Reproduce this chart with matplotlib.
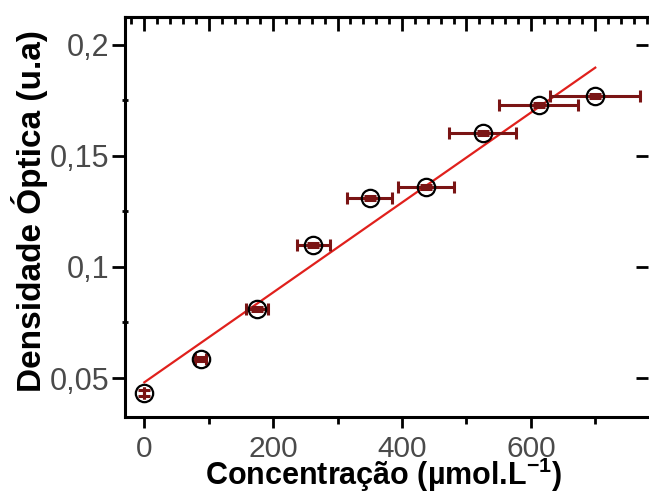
import numpy as np
import matplotlib

matplotlib.use("Agg")
import matplotlib.pyplot as plt
from matplotlib.ticker import FuncFormatter, MultipleLocator

plt.rcParams["font.family"] = ["Liberation Sans", "DejaVu Sans"]
plt.rcParams["mathtext.fontset"] = "custom"
plt.rcParams["mathtext.bf"] = "Liberation Sans:bold"
plt.rcParams["mathtext.rm"] = "Liberation Sans"

concentration = [0, 87.5, 175, 262.5, 350, 437.5, 525, 612.5, 700]
optical_density = [0.0432, 0.0586, 0.0811, 0.110, 0.131, 0.136, 0.1604, 0.173, 0.177]
x_error = [0.0, 8.75, 17.5, 26.25, 35.0, 43.75, 52.5, 61.25, 70.0]
y_error = [0.0012, 0.0008, 0.0008, 0.0008, 0.0008, 0.0008, 0.0008, 0.0008, 0.0008]

slope, intercept = np.polyfit(concentration, optical_density, 1)
fit_x = np.array([concentration[0], concentration[-1]])
fit_y = slope * fit_x + intercept

fig = plt.figure(figsize=(6.49, 4.93), dpi=100)
ax = fig.add_axes([0.1926, 0.154, 0.806, 0.8115])

ax.plot(fit_x, fit_y, color="#e0201c", linewidth=1.6, zorder=2)
ax.errorbar(concentration, optical_density, xerr=x_error, yerr=y_error, fmt="none",
            ecolor="#7a1414", elinewidth=2.2, capsize=4, capthick=2.2, zorder=3)
ax.plot(concentration, optical_density, "o", markersize=12.5, markerfacecolor="none",
        markeredgecolor="black", markeredgewidth=1.6, zorder=4)

ax.set_xlim(-30, 782)
ax.set_ylim(0.0324, 0.2126)

ax.spines["right"].set_visible(False)
for side in ("left", "top", "bottom"):
    ax.spines[side].set_linewidth(2.2)

ax.xaxis.set_major_locator(MultipleLocator(200))
ax.xaxis.set_minor_locator(MultipleLocator(100))
ax.yaxis.set_major_locator(MultipleLocator(0.05))
ax.yaxis.set_minor_locator(MultipleLocator(0.025))
ax.yaxis.set_major_formatter(FuncFormatter(lambda v, p: f"{v:g}".replace(".", ",")))

ax.tick_params(axis="x", which="major", direction="out", length=8, width=2,
               labelsize=21.5, labelcolor="#4a4a4a", pad=5)
ax.tick_params(axis="x", which="minor", direction="out", length=5, width=2)
ax.tick_params(axis="y", which="major", direction="out", length=9.5, width=2,
               labelsize=22, labelcolor="#4a4a4a", pad=1.5)
ax.tick_params(axis="y", which="minor", direction="inout", length=5, width=2)

# inward ticks along the top edge
top = ax.secondary_xaxis("top")
top.xaxis.set_major_locator(MultipleLocator(100))
top.xaxis.set_minor_locator(MultipleLocator(20))
top.tick_params(which="major", direction="in", length=10, width=2, labeltop=False)
top.tick_params(which="minor", direction="in", length=5, width=2)
top.spines["top"].set_linewidth(2.2)

right = ax.secondary_yaxis("right")
right.yaxis.set_major_locator(MultipleLocator(0.05))
right.yaxis.set_minor_locator(MultipleLocator(1))
right.tick_params(which="major", direction="in", length=9, width=2, labelright=False)
right.spines["right"].set_visible(False)

ax.set_xlabel("Concentração (µmol.L$^{\\mathbf{-1}}$)", fontsize=22, fontweight="bold")
ax.set_ylabel("Densidade Óptica (u.a)", fontsize=24, fontweight="bold")
ax.xaxis.set_label_coords(0.495, -0.097)
ax.yaxis.set_label_coords(-0.148, 0.515)

fig.savefig("out.png", dpi=100)
